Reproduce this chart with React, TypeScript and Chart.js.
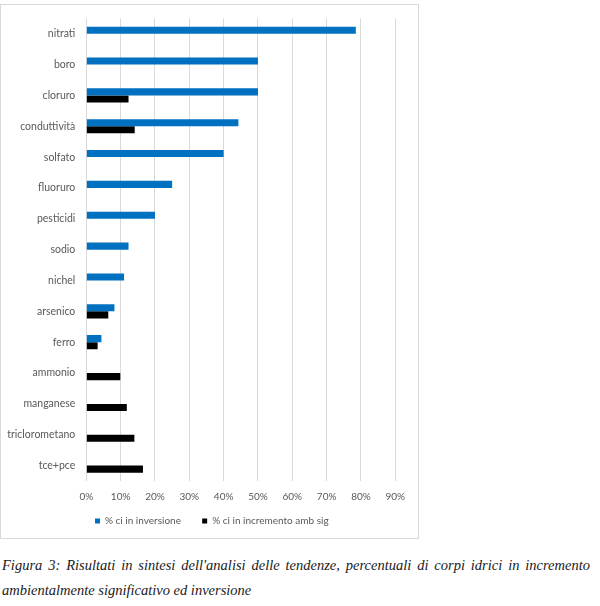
import React, { useEffect, useRef } from 'react';
import { Chart, registerables } from 'chart.js';

Chart.register(...registerables);

const categories = [
  'nitrati', 'boro', 'cloruro', 'conduttività', 'solfato', 'fluoruro', 'pesticidi',
  'sodio', 'nichel', 'arsenico', 'ferro', 'ammonio', 'manganese', 'triclorometano', 'tce+pce',
];
// % corpi idrici in inversione
const inversione = [78.5, 50, 50, 44.3, 40, 25, 20, 12.3, 11, 8.2, 4.4, null, null, null, null];
// % corpi idrici in incremento ambientalmente significativo
const incremento = [null, null, 12.3, 14.1, null, null, null, null, null, 6.4, 3.3, 9.9, 11.8, 14, 16.5];
const seriesLabels = ['% ci in inversione', '% ci in incremento amb sig'];
const xTicks = [0, 10, 20, 30, 40, 50, 60, 70, 80, 90];

const fontFamily = 'Lato, "Open Sans", sans-serif';
const grey = '#595959';

export default function App() {
  const canvasRef = useRef<HTMLCanvasElement | null>(null);

  useEffect(() => {
    if (!canvasRef.current) return;
    const chart = new Chart(canvasRef.current, {
      type: 'bar',
      data: {
        labels: categories,
        datasets: [
          { label: seriesLabels[0], data: inversione, backgroundColor: '#0070C0', barPercentage: 1, categoryPercentage: 0.46 },
          { label: seriesLabels[1], data: incremento, backgroundColor: '#000000', barPercentage: 1, categoryPercentage: 0.46 },
        ],
      },
      options: {
        indexAxis: 'y',
        animation: false,
        responsive: true,
        maintainAspectRatio: false,
        layout: { padding: { top: 13, right: 0, bottom: 2, left: 4.6 } },
        plugins: {
          tooltip: { enabled: false },
          legend: {
            position: 'bottom',
            labels: {
              boxWidth: 5,
              boxHeight: 5,
              padding: 10,
              color: grey,
              font: { family: fontFamily, size: 10 },
              generateLabels: (c: any) => {
                const items = Chart.defaults.plugins.legend.labels.generateLabels(c);
                // wider gap between the two entries, as in the original
                items[0].text += '\u2002\u2002\u2009';
                return items;
              },
            },
          },
        },
        scales: {
          x: {
            min: 0,
            max: 90,
            afterBuildTicks: (scale: any) => {
              scale.ticks = xTicks.map((v) => ({ value: v }));
            },
            afterFit: (scale: any) => {
              scale.height = 25;
            },
            grid: { color: '#d9d9d9', drawTicks: false },
            border: { display: false },
            ticks: {
              padding: 10,
              color: grey,
              font: { family: fontFamily, size: 10 },
              callback: (v: any) => v + '%',
            },
          },
          y: {
            afterFit: (scale: any) => {
              scale.width = 80.7;
            },
            grid: { drawOnChartArea: false, drawTicks: true, tickLength: 4, color: 'rgba(0,0,0,0)' },
            border: { display: false },
            ticks: { padding: 7, color: grey, font: { family: fontFamily, size: 10.5 }, autoSkip: false },
          },
          // empty right-hand margin of the plot
          yRight: {
            type: 'category',
            position: 'right',
            afterFit: (scale: any) => {
              scale.width = 22.7;
            },
            grid: { display: false },
            border: { display: false },
            ticks: { display: false },
          },
        },
      },
    });
    return () => chart.destroy();
  }, []);

  return (
    <div style={{ position: 'absolute', left: 0, top: 0, width: 600, height: 606, background: '#fff' }}>
      <div
        style={{
          position: 'absolute',
          left: 0,
          top: 4,
          width: 419,
          height: 535,
          border: '1px solid #d9d9d9',
          boxSizing: 'border-box',
        }}
      />
      <div style={{ position: 'absolute', left: 1, top: 5, width: 417, height: 533 }}>
        <canvas ref={canvasRef}></canvas>
      </div>
      <div
        style={{
          position: 'absolute',
          left: 2,
          top: 553,
          width: 588,
          fontFamily: '"Liberation Serif", "Times New Roman", serif',
          fontStyle: 'italic',
          fontSize: 14.5,
          lineHeight: '25px',
          color: '#1a1a1a',
        }}
      >
        <div style={{ textAlign: 'justify', textAlignLast: 'justify' }}>
          Figura 3: Risultati in sintesi dell'analisi delle tendenze, percentuali di corpi idrici in incremento
        </div>
        <div>ambientalmente significativo ed inversione</div>
      </div>
    </div>
  );
}
